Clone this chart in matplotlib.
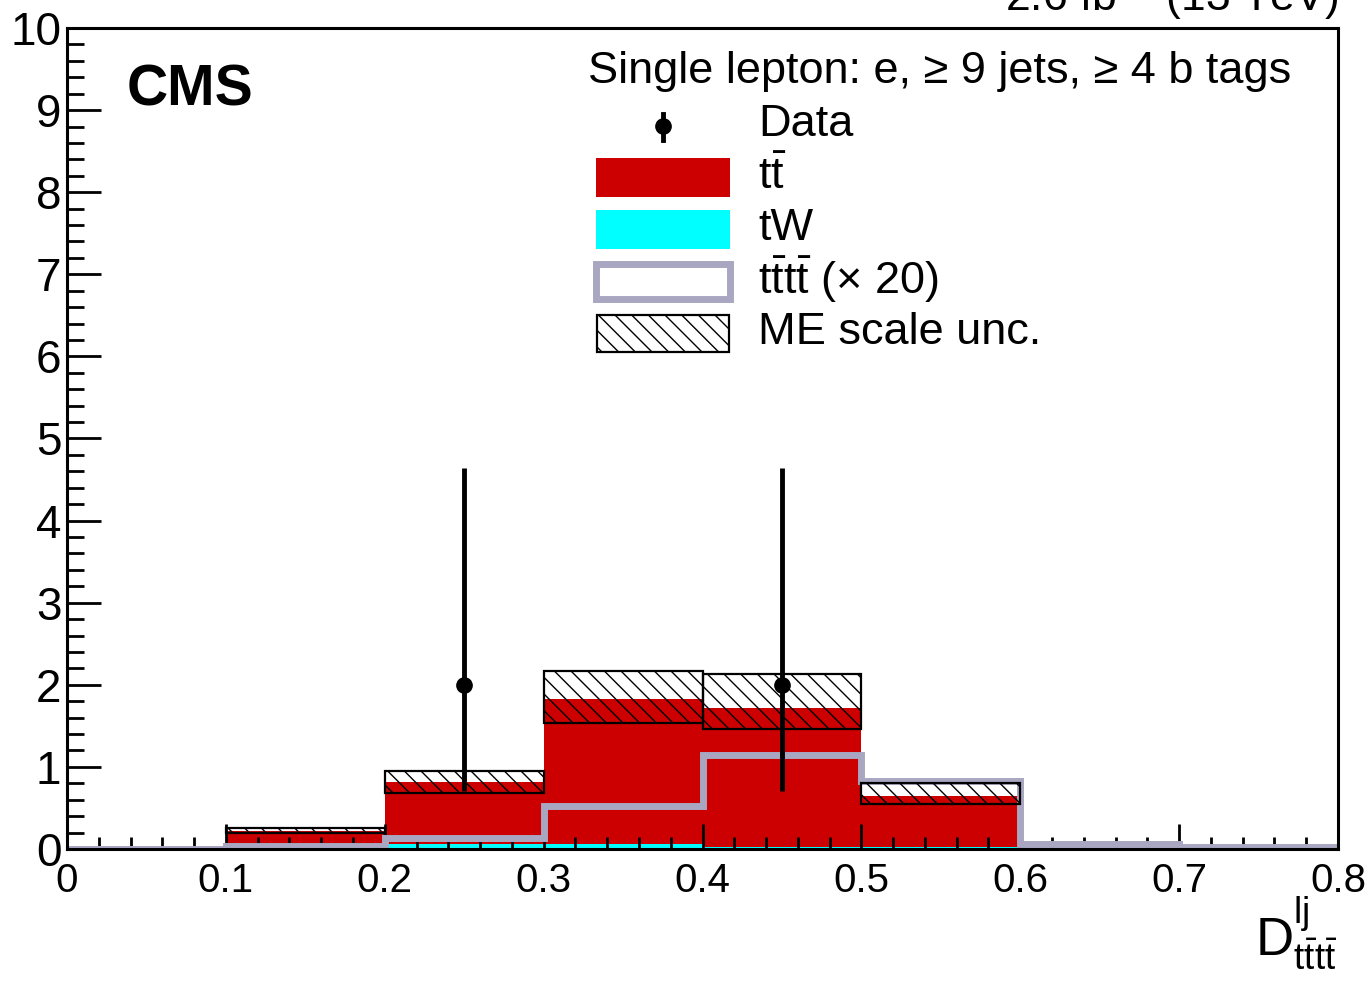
import numpy as np
import matplotlib
matplotlib.use("Agg")
import matplotlib.pyplot as plt
from matplotlib.patches import Rectangle
from matplotlib.lines import Line2D
from matplotlib.ticker import MultipleLocator

plt.rcParams['font.family'] = ['Liberation Sans', 'DejaVu Sans']
plt.rcParams['mathtext.fontset'] = 'custom'
plt.rcParams['mathtext.rm'] = 'Liberation Sans'
plt.rcParams['mathtext.it'] = 'Liberation Sans:italic'
plt.rcParams['mathtext.bf'] = 'Liberation Sans:bold'
plt.rcParams['hatch.linewidth'] = 1.0

# bin edges of the discriminant
edges = np.array([0.0, 0.1, 0.2, 0.3, 0.4, 0.5, 0.6, 0.7, 0.8])
centers = 0.5 * (edges[:-1] + edges[1:])

# stacked backgrounds
tW = np.array([0.0, 0.0, 0.06, 0.06, 0.02, 0.02, 0.0, 0.0])
total = np.array([0.01, 0.22, 0.81, 1.83, 1.72, 0.65, 0.0, 0.0])
tt = total - tW
# ME scale uncertainty band
unc_up = np.array([0.01, 0.26, 0.95, 2.17, 2.13, 0.80, 0.0, 0.0])
unc_dn = np.array([0.01, 0.19, 0.68, 1.54, 1.46, 0.55, 0.0, 0.0])
# signal x20
tttt = np.array([0.0, 0.04, 0.13, 0.52, 1.14, 0.83, 0.06, 0.02])
# data with poisson errors
data = np.array([0, 0, 2, 0, 2, 0, 0, 0])
err_lo = np.array([0, 0, 1.29, 0, 1.29, 0, 0, 0])
err_hi = np.array([0, 0, 2.64, 0, 2.64, 0, 0, 0])

W, H = 1368, 985
fig = plt.figure(figsize=(W / 100, H / 100), dpi=100)
ax = fig.add_axes([67 / W, 1 - 849 / H, (1338 - 67) / W, (849 - 28) / H])

red = '#cc0000'
cyan = '#00ffff'
gray = '#a9a6c2'

width = np.diff(edges)
ax.bar(edges[:-1], tW, width=width, bottom=0, align='edge', color=cyan, lw=0, zorder=1)
ax.bar(edges[:-1], tt, width=width, bottom=tW, align='edge', color=red, lw=0, zorder=1)

ax.stairs(tttt, edges, color=gray, lw=5, baseline=None, zorder=2)

m = unc_up > unc_dn
ax.bar(edges[:-1][m], (unc_up - unc_dn)[m], width=width[m], bottom=unc_dn[m], align='edge',
       fill=False, hatch='\\\\', edgecolor='black', lw=1.6, zorder=3)

d = data > 0
ax.errorbar(centers[d], data[d], yerr=[err_lo[d], err_hi[d]], fmt='o', color='black',
            ms=11, elinewidth=3.5, capsize=0, zorder=5)

ax.set_xlim(0, 0.8)
ax.set_ylim(0, 10)
ax.xaxis.set_minor_locator(MultipleLocator(0.02))
ax.yaxis.set_major_locator(MultipleLocator(1))
ax.yaxis.set_minor_locator(MultipleLocator(0.2))
ax.set_xticks(edges)
ax.set_xticklabels(['0', '0.1', '0.2', '0.3', '0.4', '0.5', '0.6', '0.7', '0.8'])
ax.tick_params(axis='x', which='major', direction='in', length=18, width=2, labelsize=29, pad=9)
ax.tick_params(axis='x', which='minor', direction='in', length=9, width=2)
ax.tick_params(axis='y', which='major', direction='in', length=24.5, width=2, labelsize=33, pad=4)
ax.tick_params(axis='y', which='minor', direction='in', length=12, width=2)
for s in ax.spines.values():
    s.set_linewidth(2.2)
    s.set_zorder(6)


def px(x, y):
    return x / W, 1 - y / H


# CMS label
fig.text(*px(127, 105), 'CMS', fontsize=41, fontweight='bold', va='baseline', ha='left')
# lumi (cut at top edge)
fig.text(*px(1338, 12), r'2.6 fb$^{-1}$ (13 TeV)', fontsize=32, ha='right', va='baseline')

# legend
fig.text(*px(588, 72), 'Single lepton: e, \u2265 9 jets, \u2265 4 b tags', fontsize=32.5,
         ha='left', va='center')
tf = fig.transFigure
fig.add_artist(Line2D([663 / W, 663 / W], [1 - 114 / H, 1 - 140 / H], color='black', lw=3.5, transform=tf))
fig.add_artist(Line2D([663 / W], [1 - 126 / H], marker='o', ms=11, color='black', transform=tf))
fig.add_artist(Rectangle(px(596, 197), 134 / W, 39 / H, facecolor=red, edgecolor='none', transform=tf))
fig.add_artist(Rectangle(px(596, 249), 134 / W, 39 / H, facecolor=cyan, edgecolor='none', transform=tf))
fig.add_artist(Rectangle(px(596, 299), 134 / W, 35 / H, facecolor='white', edgecolor=gray, lw=5, transform=tf))
fig.add_artist(Rectangle(px(597, 352), 132 / W, 37 / H, fill=False, hatch='\\\\', edgecolor='black', lw=1.6, transform=tf))

labels = ['Data', r'$\mathrm{t\bar{t}}$', 'tW', r'$\mathrm{t\bar{t}t\bar{t}}$ ($\times$ 20)', 'ME scale unc.']
ys = [124, 177, 228, 280, 332]
for lab, yy in zip(labels, ys):
    fig.text(*px(758, yy), lab, fontsize=32.5, ha='left', va='center')

# x axis title
fig.text(*px(1338, 955), r'$\mathrm{D}^{\mathrm{lj}}_{\mathrm{t\bar{t}t\bar{t}}}$', fontsize=38,
         ha='right', va='baseline')

fig.savefig('out.png', dpi=100)
